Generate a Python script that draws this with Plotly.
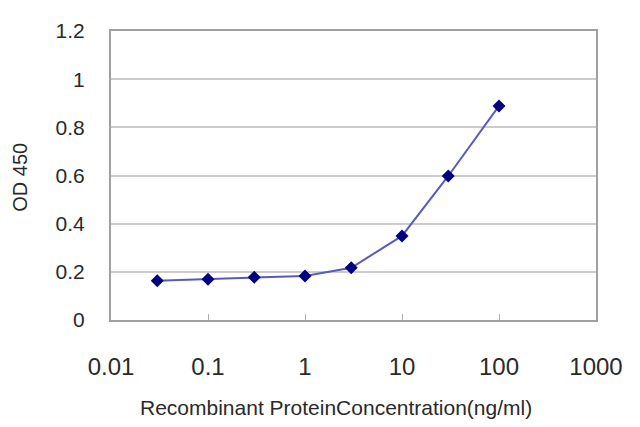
import plotly.graph_objects as go

# concentration (ng/ml) and measured OD 450
concentration = [0.03, 0.1, 0.3, 1, 3, 10, 30, 100]
od450 = [0.163, 0.169, 0.177, 0.183, 0.217, 0.349, 0.598, 0.889]

x_ticks = [0.01, 0.1, 1, 10, 100, 1000]
x_tick_text = ['0.01', '0.1', '1', '10', '100', '1000']
y_ticks = [0, 0.2, 0.4, 0.6, 0.8, 1, 1.2]
y_tick_text = ['0', '0.2', '0.4', '0.6', '0.8', '1', '1.2']

fig = go.Figure()

fig.add_trace(go.Scatter(x=concentration, y=od450, mode='lines+markers',
                         line=dict(color='rgb(90, 90, 190)', width=2),
                         marker=dict(symbol='diamond', size=10, color='rgb(0, 0, 128)'),
                         showlegend=False))

# page body has an 8px margin, so the figure is a bit smaller than the window
fig.update_layout(
    width=632, height=419,
    margin=dict(l=103, r=44, t=23, b=107),
    plot_bgcolor='white', paper_bgcolor='white',
    font=dict(family='Liberation Sans, Arial, sans-serif', color='#2a2a2a'),
    xaxis=dict(type='log', range=[-2, 3], tickvals=x_ticks, ticktext=x_tick_text,
               showgrid=False, showline=True, linecolor='#a0a0a0', linewidth=2,
               mirror=True, ticks='inside', ticklen=6, tickcolor='#b0b0b0',
               tickfont=dict(size=24), ticklabelstandoff=24, zeroline=False),
    yaxis=dict(range=[0, 1.2], tickvals=y_ticks, ticktext=y_tick_text,
               showgrid=True, gridcolor='#cccccc', gridwidth=1.5,
               showline=True, linecolor='#a0a0a0', linewidth=2, mirror=True,
               ticks='', tickfont=dict(size=21), ticklabelstandoff=20,
               zeroline=False),
    annotations=[
        dict(text='Recombinant ProteinConcentration(ng/ml)', xref='paper', yref='paper',
             x=0.464, y=-0.304, showarrow=False, font=dict(size=21),
             xanchor='center', yanchor='middle'),
        dict(text='OD 450', xref='paper', yref='paper', x=-0.188, y=0.495,
             textangle=-90, showarrow=False, font=dict(size=20),
             xanchor='center', yanchor='middle'),
    ],
)

fig.write_html("out.html")
